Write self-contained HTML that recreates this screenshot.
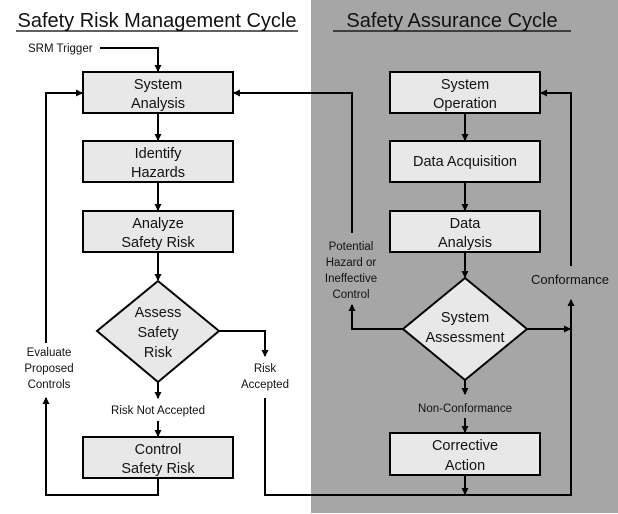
<!DOCTYPE html>
<html><head><meta charset="utf-8"><style>
body{margin:0;background:#fff}
svg{display:block}
text{font-family:"Liberation Sans",sans-serif;fill:#111}
.b{font-size:14.5px}
.l{font-size:11.5px}
.t{font-size:20px}
</style></head><body>
<svg width="618" height="514" viewBox="0 0 618 514" xmlns="http://www.w3.org/2000/svg">
<defs><marker id="a" markerWidth="8" markerHeight="8" refX="6" refY="4" orient="auto" markerUnits="userSpaceOnUse"><path d="M0,0.5 L7,4 L0,7.5z" fill="#000"/></marker></defs>
<rect x="311" y="0" width="307" height="513" fill="#a6a6a6"/>
<text class="t" x="157" y="27" text-anchor="middle">Safety Risk Management Cycle</text>
<line x1="16" y1="31" x2="298" y2="31" stroke="#000" stroke-width="1.3"/>
<text class="t" x="452" y="27" text-anchor="middle">Safety Assurance Cycle</text>
<line x1="333" y1="31" x2="571" y2="31" stroke="#000" stroke-width="1.3"/>
<g fill="#e8e8e8" stroke="#000" stroke-width="2">
<rect x="83" y="72" width="150" height="41"/><rect x="83" y="141" width="150" height="41"/><rect x="83" y="211" width="150" height="41"/><rect x="83" y="437" width="150" height="41"/>
<polygon points="158,281 219,331 158,382 97,331"/>
<rect x="390" y="72" width="150" height="41"/><rect x="390" y="141" width="150" height="41"/><rect x="390" y="211" width="150" height="41"/><rect x="390" y="433" width="150" height="42"/>
<polygon points="465,278 527,329 465,380 403,329"/>
</g>
<g fill="none" stroke="#000" stroke-width="2" marker-end="url(#a)">
<path d="M100,48 H158 V71"/>
<path d="M158,113 V140"/><path d="M158,182 V210"/><path d="M158,252 V280"/>
<path d="M158,382 V398"/><path d="M158,421 V436"/>
<path d="M219,331 H265 V356"/>
<path d="M158,478 V495 H46 V398"/>
<path d="M46,343 V93 H82"/>
<path d="M352,233 V93 H234"/>
<path d="M465,113 V140"/><path d="M465,182 V210"/><path d="M465,252 V277"/>
<path d="M403,329 H352 V305"/>
<path d="M527,329 H570"/>
<path d="M265,398 V495 H571 V300"/>
<path d="M571,266 V93 H541"/>
<path d="M465,380 V394"/><path d="M465,418 V432"/><path d="M465,475 V494"/>
</g>
<text class="l" x="28" y="52">SRM Trigger</text>
<g class="b" text-anchor="middle">
<text x="158" y="89">System</text><text x="158" y="108">Analysis</text>
<text x="158" y="158">Identify</text><text x="158" y="177">Hazards</text>
<text x="158" y="228">Analyze</text><text x="158" y="247">Safety Risk</text>
<text x="158" y="317">Assess</text><text x="158" y="337">Safety</text><text x="158" y="357">Risk</text>
<text x="158" y="454">Control</text><text x="158" y="473">Safety Risk</text>
<text x="465" y="89">System</text><text x="465" y="108">Operation</text>
<text x="465" y="166">Data Acquisition</text>
<text x="465" y="228">Data</text><text x="465" y="247">Analysis</text>
<text x="465" y="322">System</text><text x="465" y="342">Assessment</text>
<text x="465" y="450">Corrective</text><text x="465" y="470">Action</text>
</g>
<g class="l" text-anchor="middle">
<text x="49" y="356">Evaluate</text><text x="49" y="372">Proposed</text><text x="49" y="388">Controls</text>
<text x="265" y="372">Risk</text><text x="265" y="388">Accepted</text>
<text x="158" y="414">Risk Not Accepted</text>
<text x="351" y="250">Potential</text><text x="351" y="266">Hazard or</text><text x="351" y="282">Ineffective</text><text x="351" y="298">Control</text>
<text x="570" y="284" style="font-size:13px">Conformance</text>
<text x="465" y="412">Non-Conformance</text>
</g>
</svg>
</body></html>
